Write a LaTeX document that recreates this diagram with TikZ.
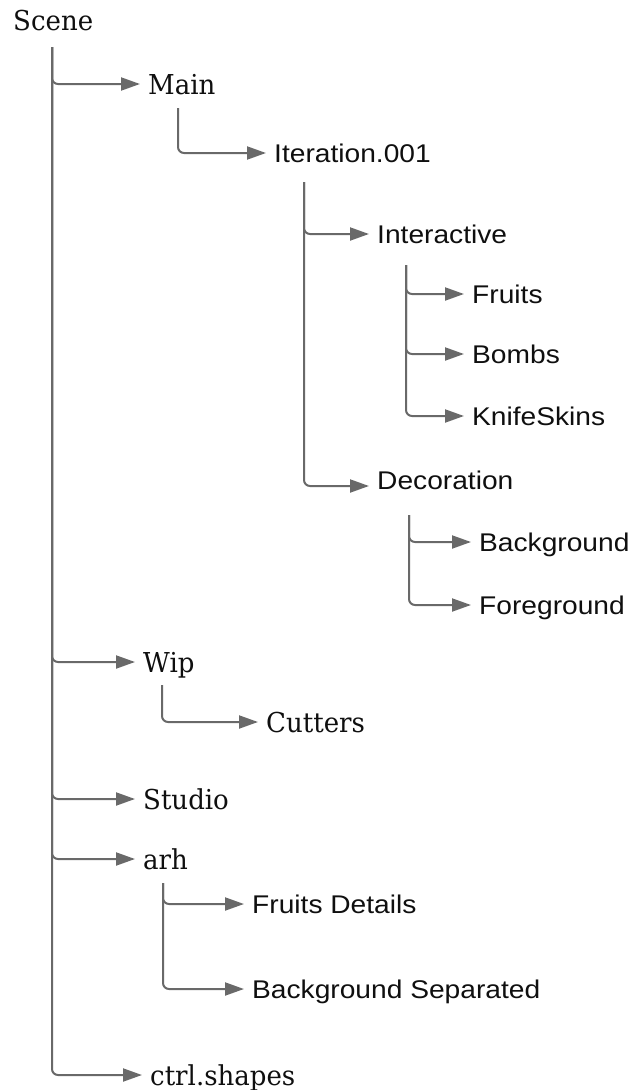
\documentclass[tikz,border=0pt]{standalone}
\usepackage{fontspec}
\usepackage{xcolor}
\usepackage{tikz}
\usetikzlibrary{arrows.meta,positioning}
\newfontfamily\treeserif[FakeStretch=0.95]{DejaVu Serif}
\newfontfamily\treesans[FakeStretch=1.1]{Liberation Sans}
\definecolor{linkgray}{RGB}{105,105,105}
\definecolor{labelblack}{RGB}{15,15,15}

\begin{document}
\begin{tikzpicture}[x=1pt, y=-1pt,
    serifnode/.style={anchor=west, inner sep=0pt, text height=20pt, text depth=0pt,
        font=\treeserif\fontsize{27.4}{30}\selectfont, text=labelblack},
    sansnode/.style={anchor=west, inner sep=0pt, text height=18.3pt, text depth=0pt,
        font=\treesans\fontsize{25.6}{28}\selectfont, text=labelblack},
    link/.style={draw=linkgray, line width=2pt, rounded corners=6pt,
        -{Triangle[length=19pt,width=13pt]}, shorten >=8pt}]
\useasboundingbox (0,0) rectangle (630,1090);

% folders
\node[serifnode] (scene) at (13,20) {Scene};
\node[serifnode] (main) at (148,84) {Main};
\node[sansnode] (iter) at (274,153) {Iteration.001};
\node[sansnode] (interactive) at (377,234) {Interactive};
\node[sansnode] (fruits) at (472,294) {Fruits};
\node[sansnode] (bombs) at (472,354) {Bombs};
\node[sansnode] (knife) at (472,416) {KnifeSkins};
\node[sansnode] (decoration) at (377,480) {Decoration};
\node[sansnode] (background) at (479,542) {Background};
\node[sansnode] (foreground) at (479,605) {Foreground};
\node[serifnode] (wip) at (143,662) {Wip};
\node[serifnode] (cutters) at (266,722) {Cutters};
\node[serifnode] (studio) at (143,799) {Studio};
\node[serifnode] (arh) at (143,859) {arh};
\node[sansnode] (fdetails) at (252,904) {Fruits Details};
\node[sansnode] (bsep) at (252,989) {Background Separated};
\node[serifnode] (ctrl) at (150,1075) {ctrl.shapes};

% tops of the branch lines
\coordinate (sceneT) at (52,47);
\coordinate (mainT) at (178,108);
\coordinate (iterT) at (304,182);
\coordinate (interT) at (406,265);
\coordinate (decoT) at (409,515);
\coordinate (wipT) at (162,685);
\coordinate (arhT) at (163,883);

% links
\foreach \child in {main,wip,studio,arh,ctrl}
    \draw[link] (sceneT) |- (\child);
\draw[link] (mainT) |- (iter);
\draw[link] (iterT) |- (interactive);
\draw[link] (iterT) |- ([yshift=-6pt]decoration.west);
\foreach \child in {fruits,bombs,knife}
    \draw[link] (interT) |- (\child);
\foreach \child in {background,foreground}
    \draw[link] (decoT) |- (\child);
\draw[link] (wipT) |- (cutters);
\foreach \child in {fdetails,bsep}
    \draw[link] (arhT) |- (\child);
\end{tikzpicture}
\end{document}
